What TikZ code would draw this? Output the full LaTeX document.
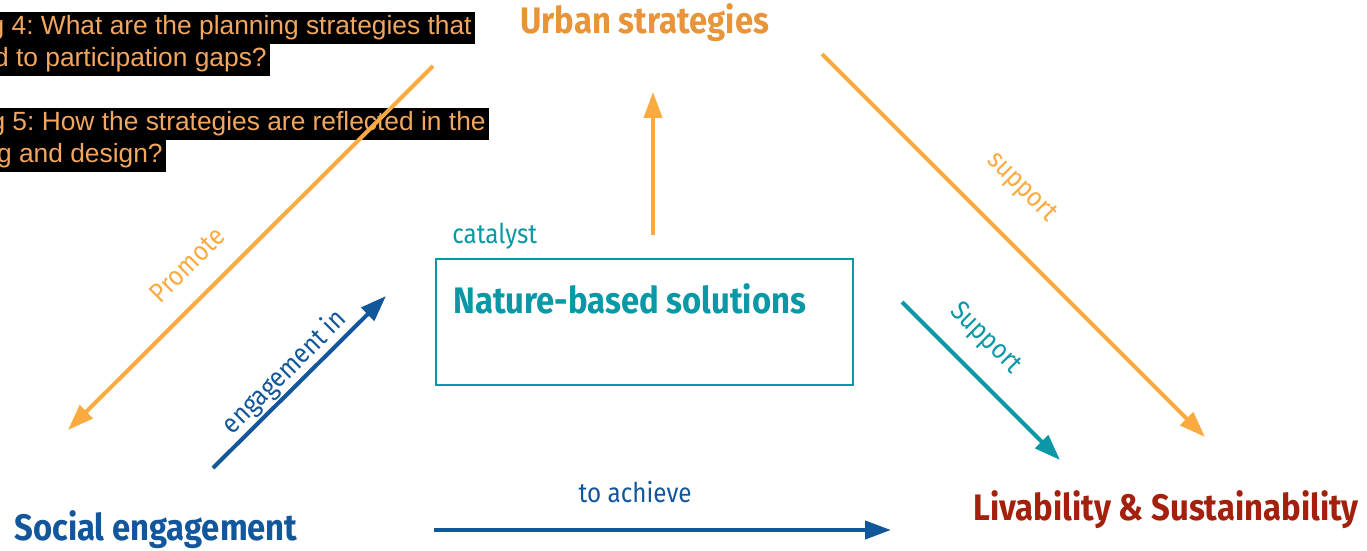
\documentclass[tikz,border=0pt]{standalone}
\usepackage{fontspec}
\setmainfont[FakeStretch=0.89]{Fira Sans}
\newfontfamily\qfont{Liberation Sans}
\usetikzlibrary{arrows.meta, positioning, calc}
\definecolor{nbsorange}{HTML}{FBAA40}
\definecolor{nbsurban}{HTML}{E8943A}
\definecolor{nbsqtext}{HTML}{F2A65E}
\definecolor{nbsteal}{HTML}{0A98A6}
\definecolor{nbsblue}{HTML}{12569B}
\definecolor{nbsred}{HTML}{A3200C}
\frenchspacing
\tikzset{
  headline/.style={anchor=base west, inner sep=0pt, font=\fontsize{21}{25}\selectfont\bfseries},
  relword/.style={inner sep=0pt, font=\fontsize{15.5}{18}\selectfont},
  question/.style={anchor=east, fill=black, text=nbsqtext, inner xsep=0.06cm, inner ysep=0pt,
                   minimum height=0.64cm, font=\qfont\fontsize{15}{18}\selectfont},
  arrow/.style={-{Triangle[length=0.52cm,width=0.36cm]}, line width=2.3pt},
  nbsbox/.style={draw=nbsteal, line width=1.1pt, minimum width=8.34cm, minimum height=2.52cm, inner sep=0pt}
}
\begin{document}
\begin{tikzpicture}[x=0.02cm, y=-0.02cm]
  \useasboundingbox (0,0) rectangle (1367,551);
  \clip (0,0) rectangle (1367,551);

  % research questions (cut at the left margin)
  \node[question] (q4a) at (475,28) {g 4: What are the planning strategies that};
  \node[question] (q4b) at (270,60) {d to participation gaps?};
  \node[question] (q5a) at (489,124) {g 5: How the strategies are reflected in the};
  \node[question] (q5b) at (166,156) {g and design?};

  % concepts
  \node[headline, text=nbsurban] (urban) at (520,33) {Urban strategies};
  \node[headline, text=nbsblue] (social) at (14,540) {Social engagement};
  \node[headline, text=nbsred] (livable) at (973,520) {Livability \& Sustainability};
  \node[nbsbox] (nbsframe) at (644.5,322) {};
  \node[headline, text=nbsteal] (nbs) at (453,313) {Nature-based solutions};
  \node[relword, anchor=base west, text=nbsteal] (catalyst) at (452,243) {catalyst};

  % arrow end points
  \coordinate (promoteTip) at (68,430);
  \coordinate (promoteTail) at (433,66);
  \coordinate (upTail) at (653,235);
  \coordinate (upTip) at (653,92);
  \coordinate (supTail) at (822,54);
  \coordinate (supTip) at (1205,437);
  \coordinate (tsupTail) at (902,302);
  \coordinate (tsupTip) at (1060,460);
  \coordinate (engTail) at (213,468);
  \coordinate (engTip) at (386,296);
  \coordinate (achTail) at (434,530);
  \coordinate (achTip) at (891,530);

  \draw[arrow, draw=nbsorange, fill=nbsorange, {Triangle[length=0.52cm,width=0.36cm]}-] (promoteTip) --
    node[relword, sloped, pos=0.39, yshift=0.66cm, text=nbsorange]{Promote} (promoteTail);
  \draw[arrow, draw=nbsorange, fill=nbsorange] (upTail) -- (upTip);
  \draw[arrow, draw=nbsorange, fill=nbsorange] (supTail) --
    node[relword, sloped, pos=0.435, yshift=0.93cm, text=nbsorange]{support} (supTip);
  \draw[arrow, draw=nbsteal, fill=nbsteal] (tsupTail) --
    node[relword, sloped, pos=0.38, yshift=0.66cm, text=nbsteal]{Support} (tsupTip);
  \draw[arrow, draw=nbsblue, fill=nbsblue] (engTail) --
    node[relword, sloped, pos=0.485, yshift=0.34cm, text=nbsblue]{engagement in} (engTip);
  \draw[arrow, draw=nbsblue, fill=nbsblue] (achTail) --
    node[relword, pos=0.44, yshift=0.76cm, text=nbsblue]{to achieve} (achTip);
\end{tikzpicture}
\end{document}
